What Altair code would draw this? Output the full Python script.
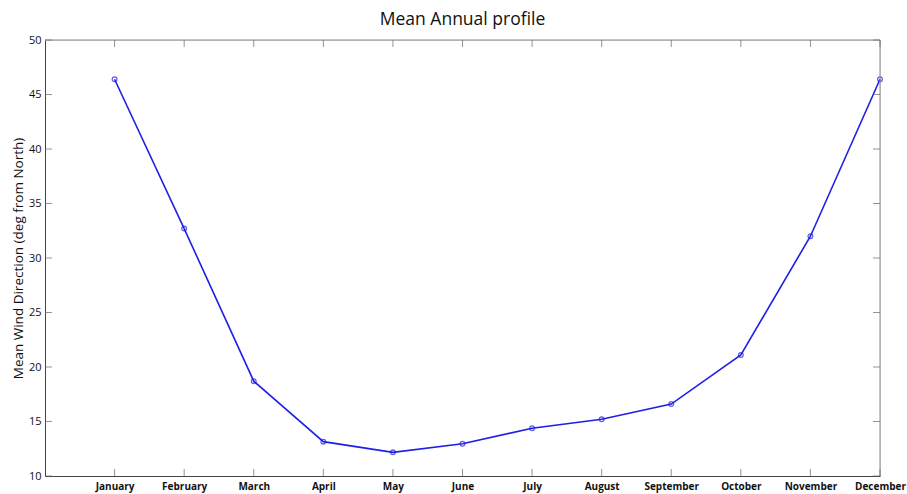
import altair as alt
import pandas as pd

# Mean wind direction per month (degrees from North)
months = ["January", "February", "March", "April", "May", "June",
          "July", "August", "September", "October", "November", "December"]
direction = [46.4, 32.7, 18.7, 13.15, 12.17, 12.96, 14.38, 15.2, 16.6, 21.1, 32.0, 46.4]
y_ticks = [10, 15, 20, 25, 30, 35, 40, 45, 50]
month_idx = list(range(1, 13))

df = pd.DataFrame({"m": month_idx, "month": months, "dir": direction})
xt = pd.DataFrame({"m": month_idx})
yt = pd.DataFrame({"v": y_ticks})

W, H = 835, 436
FONT = "Open Sans"
LINE = "#1f1fe6"

label_expr = "[" + ",".join(f"'{m}'" for m in months) + "][datum.value - 1]"

x_scale = alt.Scale(domain=[0, 12], nice=False, zero=False)
y_scale = alt.Scale(domain=[10, 50], nice=False, zero=False)

x_enc = alt.X("m:Q", scale=x_scale,
              axis=alt.Axis(values=month_idx, labelExpr=label_expr, title=None,
                            tickSize=0, grid=False, domainColor="#444444",
                            labelFont=FONT, labelFontSize=10, labelFontWeight="bold",
                            labelColor="#111111", labelPadding=5,
                            labelOverlap=False, labelBound=False, labelFlush=False))
y_enc = alt.Y("dir:Q", scale=y_scale,
              axis=alt.Axis(values=y_ticks, title="Mean Wind Direction (deg from North)",
                            tickSize=0, grid=False, domainColor="#444444",
                            labelFont=FONT, labelFontSize=11, labelColor="#111111",
                            labelPadding=4, labelOverlap=False,
                            titleFont=FONT, titleFontSize=13.5,
                            titleFontWeight="normal", titleColor="#111111",
                            titlePadding=3))

line = alt.Chart(df).mark_line(color=LINE, strokeWidth=1.6).encode(x=x_enc, y=y_enc)
points = alt.Chart(df).mark_point(shape="circle", filled=False, color=LINE,
                                  size=22, strokeWidth=1.3).encode(x="m:Q", y="dir:Q")

# frame: top and right edges
frame_top = alt.Chart(yt.head(1)).mark_rule(color="#8a8a8a", strokeWidth=1).encode(
    x=alt.value(0), x2=alt.value(W), y=alt.value(0))
frame_right = alt.Chart(yt.head(1)).mark_rule(color="#8a8a8a", strokeWidth=1).encode(
    x=alt.value(W), y=alt.value(0), y2=alt.value(H))

# inward tick marks on all four sides
tick_col = "#666666"
xt_bottom = alt.Chart(xt).mark_tick(color=tick_col, size=7, thickness=1, yOffset=-3.5,
                                    orient="vertical").encode(
    x="m:Q", y=alt.value(H))
xt_top = alt.Chart(xt).mark_tick(color=tick_col, size=7, thickness=1, yOffset=3.5,
                                 orient="vertical").encode(
    x="m:Q", y=alt.value(0))
yt_left = alt.Chart(yt).mark_tick(color=tick_col, size=7, thickness=1, xOffset=3.5,
                                  orient="horizontal").encode(
    y="v:Q", x=alt.value(0))
yt_right = alt.Chart(yt).mark_tick(color=tick_col, size=7, thickness=1, xOffset=-3.5,
                                   orient="horizontal").encode(
    y="v:Q", x=alt.value(W))

chart = alt.layer(
    line, points, frame_top, frame_right, xt_bottom, xt_top, yt_left, yt_right
).properties(
    width=W, height=H,
    title=alt.TitleParams("Mean Annual profile", font=FONT, fontSize=17.5,
                          fontWeight="normal", color="#111111", anchor="middle", offset=6),
    autosize=alt.AutoSizeParams(type="none"),
    padding={"left": 45, "top": 40, "right": 27, "bottom": 18},
).configure_view(stroke=None).configure(background="white")

chart.save("out.html", embed_options={"renderer": "svg", "actions": False})
